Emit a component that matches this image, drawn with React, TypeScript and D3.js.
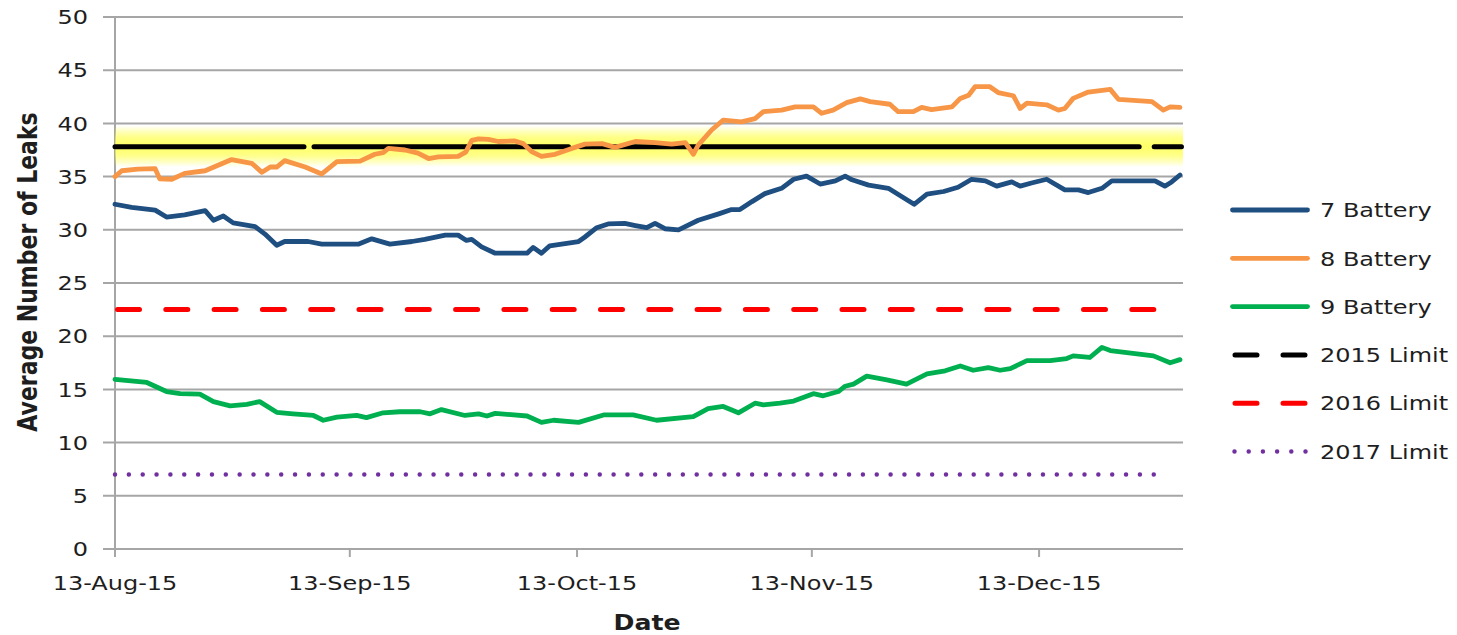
import React from "react";
import * as d3 from "d3";

// ---- data ----
const parseDate = d3.utcParse("%d-%b-%y");
const startLabel = "13-Aug-15";
const endLabel = "1-Jan-16";
const xTickLabels = ["13-Aug-15", "13-Sep-15", "13-Oct-15", "13-Nov-15", "13-Dec-15"];
const yTicks = [0, 5, 10, 15, 20, 25, 30, 35, 40, 45, 50];

// [days since 13-Aug-15, average number of leaks]
const battery7: [number, number][] = [
  [0, 32.4], [2.2, 32.1], [5.3, 31.85], [6.8, 31.2], [9.2, 31.4], [11.9, 31.8], [13.0, 30.9],
  [14.3, 31.3], [15.6, 30.65], [18.5, 30.3], [19.8, 29.6], [21.35, 28.55], [22.4, 28.9],
  [25.5, 28.9], [27.3, 28.65], [32.1, 28.65], [33.9, 29.15], [36.3, 28.65], [39.2, 28.9],
  [40.9, 29.1], [43.6, 29.5], [45.3, 29.5], [46.4, 29.0], [47.1, 29.1], [48.4, 28.4],
  [50.2, 27.8], [54.4, 27.8], [55.2, 28.35], [56.3, 27.8], [57.4, 28.5], [61.2, 28.9],
  [62.0, 29.3], [63.6, 30.2], [65.1, 30.55], [67.3, 30.6], [68.7, 30.4], [70.2, 30.2],
  [71.3, 30.6], [72.6, 30.1], [74.4, 30.0], [77.0, 30.9], [79.7, 31.5], [81.4, 31.9],
  [82.5, 31.9], [84.1, 32.65], [85.8, 33.4], [88.0, 33.9], [89.6, 34.75], [91.3, 35.05],
  [93.1, 34.3], [95.1, 34.6], [96.4, 35.05], [97.3, 34.7], [99.5, 34.2], [102.1, 33.9],
  [103.9, 33.1], [105.5, 32.4], [107.2, 33.35], [109.4, 33.6], [111.3, 34.0], [113.1, 34.75],
  [114.9, 34.6], [116.4, 34.1], [118.4, 34.5], [119.5, 34.1], [121.0, 34.4], [123.0, 34.75],
  [125.4, 33.75], [127.2, 33.75], [128.5, 33.5], [130.3, 33.9], [131.6, 34.6], [137.3, 34.6],
  [138.6, 34.1], [139.5, 34.5], [140.6, 35.15],
];

const battery8: [number, number][] = [
  [0, 35.0], [0.9, 35.55], [3.0, 35.7], [5.3, 35.75], [5.9, 34.8], [7.5, 34.75], [9.2, 35.3],
  [11.9, 35.55], [15.4, 36.6], [18.05, 36.25], [19.4, 35.4], [20.5, 35.9], [21.35, 35.9],
  [22.4, 36.5], [25.1, 35.9], [27.3, 35.25], [29.3, 36.4], [32.35, 36.45], [34.3, 37.1],
  [35.4, 37.25], [36.1, 37.65], [38.3, 37.5], [40.0, 37.2], [41.4, 36.7], [42.7, 36.85],
  [45.3, 36.9], [46.3, 37.3], [47.1, 38.4], [48.0, 38.55], [49.3, 38.5], [50.6, 38.3],
  [52.8, 38.35], [53.9, 38.1], [55.0, 37.35], [56.3, 36.9], [58.1, 37.1], [60.3, 37.65],
  [62.05, 38.05], [64.3, 38.1], [66.0, 37.75], [68.7, 38.3], [71.3, 38.2], [73.5, 38.05],
  [75.3, 38.2], [76.35, 37.1], [77.0, 37.95], [78.8, 39.4], [80.3, 40.3], [82.7, 40.15],
  [84.5, 40.45], [85.6, 41.1], [88.0, 41.25], [89.8, 41.55], [92.2, 41.55], [93.3, 40.95],
  [94.8, 41.25], [96.6, 41.95], [98.4, 42.3], [99.7, 42.05], [102.3, 41.8], [103.4, 41.1],
  [105.4, 41.1], [106.5, 41.5], [107.8, 41.3], [110.5, 41.55], [111.6, 42.35], [112.7, 42.65],
  [113.55, 43.45], [115.5, 43.45], [116.6, 42.9], [118.6, 42.6], [119.5, 41.4], [120.4, 41.9],
  [123.0, 41.75], [124.55, 41.25], [125.4, 41.4], [126.5, 42.35], [128.5, 42.95], [131.4, 43.2],
  [132.5, 42.25], [136.9, 42.05], [138.4, 41.25], [139.3, 41.55], [140.6, 41.5],
];

const battery9: [number, number][] = [
  [0, 15.95], [4.2, 15.65], [6.8, 14.8], [8.6, 14.6], [11.2, 14.55], [13.0, 13.85], [15.2, 13.45],
  [17.4, 13.6], [19.1, 13.85], [21.35, 12.85], [23.5, 12.7], [26.2, 12.55], [27.5, 12.1],
  [29.3, 12.4], [31.9, 12.55], [33.2, 12.35], [35.4, 12.8], [37.6, 12.9], [40.3, 12.9],
  [41.6, 12.7], [43.1, 13.1], [46.2, 12.55], [48.0, 12.7], [49.1, 12.5], [50.2, 12.75],
  [54.4, 12.5], [56.3, 11.9], [57.9, 12.1], [61.2, 11.9], [64.5, 12.6], [68.4, 12.6],
  [71.5, 12.1], [76.35, 12.45], [78.3, 13.2], [80.3, 13.4], [82.3, 12.8], [84.5, 13.7],
  [85.6, 13.55], [87.8, 13.7], [89.6, 13.9], [92.2, 14.6], [93.5, 14.4], [95.5, 14.8],
  [96.4, 15.3], [97.5, 15.5], [99.25, 16.25], [101.9, 15.9], [104.5, 15.5], [107.2, 16.45],
  [109.6, 16.75], [111.6, 17.2], [113.3, 16.8], [115.3, 17.05], [116.85, 16.8], [118.2, 16.95],
  [120.4, 17.7], [123.45, 17.7], [125.65, 17.9], [126.5, 18.15], [128.7, 18.0], [130.3, 18.95],
  [131.4, 18.65], [137.1, 18.15], [139.3, 17.5], [140.6, 17.8],
];

const limit2015: [number, number][] = [[0, 37.8], [140.8, 37.8]];
const limit2016: [number, number][] = [[0, 22.5], [137.4, 22.5]];
const limit2017: [number, number][] = [[0, 7], [138.9, 7]];

const legendNames = ["7 Battery", "8 Battery", "9 Battery", "2015 Limit", "2016 Limit", "2017 Limit"];

// ---- styles ----
const W = 1457;
const H = 635;
const M = { left: 115, right: 1183, top: 17, bottom: 549 };
const FONT = "'DejaVu Sans', Verdana, sans-serif";
const TXT = "#1e1e1e";
const GRID = "#a6a6a6";
const SX = 1.2;

type Style = { color: string; width: number; dash?: string; offset?: number; cap: "round" | "butt" };
const styles: Style[] = [
  { color: "#1F4E80", width: 4.8, cap: "round" },
  { color: "#F79646", width: 4.8, cap: "round" },
  { color: "#00B050", width: 4.8, cap: "round" },
  { color: "#000000", width: 5, dash: "189 10 254.5 12 558.7 15 200", cap: "round" },
  { color: "#FF0000", width: 5, dash: "22 26.3", offset: -2.5, cap: "round" },
  { color: "#7030A0", width: 4.5, dash: "0 13.85", cap: "round" },
];
const legendStyles: Style[] = [
  styles[0], styles[1], styles[2],
  { ...styles[3], dash: "22 26", offset: -2.5 },
  { ...styles[4], dash: "22 26", offset: -2.5 },
  { ...styles[5], dash: "0 14.2", offset: -2 },
];

export default function App() {
  const start = parseDate(startLabel)!;
  const end = parseDate(endLabel)!;
  const x = d3.scaleUtc().domain([start, end]).range([M.left, M.right]);
  const y = d3.scaleLinear().domain([0, 50]).range([M.bottom, M.top]);
  const dayToDate = (d: number) => new Date(start.getTime() + d * 864e5);
  const line = d3
    .line<[number, number]>()
    .x((d) => x(dayToDate(d[0])))
    .y((d) => y(d[1]));

  const series = [battery7, battery8, battery9, limit2015, limit2016, limit2017];
  const drawOrder = [5, 4, 2, 0, 3, 1];

  const bandTop = y(39.8);
  const bandBot = y(35.9);

  const legendX1 = 1230;
  const legendX2 = 1310;
  const legendY0 = 210;
  const legendStep = 48.3;

  return (
    <svg
      width={W}
      height={H}
      style={{ position: "absolute", left: 0, top: 0, background: "#fff" }}
      fontFamily={FONT}
    >
      <defs>
        <linearGradient id="glow" x1="0" y1="0" x2="0" y2="1">
          <stop offset="0" stopColor="#ffff00" stopOpacity="0" />
          <stop offset="0.3" stopColor="#ffff33" stopOpacity="0.6" />
          <stop offset="0.5" stopColor="#ffff33" stopOpacity="0.75" />
          <stop offset="0.7" stopColor="#ffff33" stopOpacity="0.6" />
          <stop offset="1" stopColor="#ffff00" stopOpacity="0" />
        </linearGradient>
      </defs>
      <rect width={W} height={H} fill="#fff" />

      {/* gridlines + y ticks */}
      {yTicks.map((t) => (
        <g key={t}>
          <line x1={M.left - 12} x2={M.right} y1={y(t)} y2={y(t)} stroke={GRID} strokeWidth={2} />
          <text
            transform={`translate(88,${y(t)}) scale(${SX},1)`}
            textAnchor="end"
            dy="0.36em"
            fontSize={20}
            fill={TXT}
          >
            {t}
          </text>
        </g>
      ))}
      {/* y axis line */}
      <line x1={M.left} x2={M.left} y1={M.top} y2={M.bottom + 8} stroke={GRID} strokeWidth={2} />
      {/* x ticks */}
      {xTickLabels.map((lbl) => {
        const xx = x(parseDate(lbl)!);
        return (
          <g key={lbl}>
            <line x1={xx} x2={xx} y1={M.bottom} y2={M.bottom + 8} stroke={GRID} strokeWidth={2} />
            <text
              transform={`translate(${xx},590) scale(${SX},1)`}
              textAnchor="middle"
              fontSize={20}
              fill={TXT}
            >
              {lbl}
            </text>
          </g>
        );
      })}

      {/* glow band behind 2015 limit */}
      <rect
        x={M.left}
        y={bandTop}
        width={M.right - M.left}
        height={bandBot - bandTop}
        fill="url(#glow)"
      />

      {/* series */}
      {drawOrder.map((i) => {
        const s = styles[i];
        return (
          <path
            key={i}
            d={line(series[i]) || ""}
            fill="none"
            stroke={s.color}
            strokeWidth={s.width}
            strokeLinecap={s.cap}
            strokeLinejoin="round"
            strokeDasharray={s.dash}
            strokeDashoffset={s.offset}
          />
        );
      })}

      {/* axis titles */}
      <text
        transform={`translate(37,272) scale(${SX},1) rotate(-90)`}
        textAnchor="middle"
        fontSize={22}
        fontWeight="bold"
        fill={TXT}
      >
        Average Number of Leaks
      </text>
      <text
        transform={`translate(${(M.left + M.right) / 2 - 2},630) scale(${SX},1)`}
        textAnchor="middle"
        fontSize={21}
        fontWeight="bold"
        fill={TXT}
      >
        Date
      </text>

      {/* legend */}
      {legendNames.map((name, i) => {
        const ly = legendY0 + i * legendStep;
        const s = legendStyles[i];
        return (
          <g key={name}>
            <line
              x1={legendX1 + 2.5}
              x2={legendX2 - 2.5}
              y1={ly}
              y2={ly}
              stroke={s.color}
              strokeWidth={s.width}
              strokeLinecap={s.cap}
              strokeDasharray={s.dash}
              strokeDashoffset={s.offset}
            />
            <text
              transform={`translate(1320,${ly}) scale(${SX},1)`}
              dy="0.36em"
              fontSize={20}
              fill={TXT}
            >
              {name}
            </text>
          </g>
        );
      })}
    </svg>
  );
}
